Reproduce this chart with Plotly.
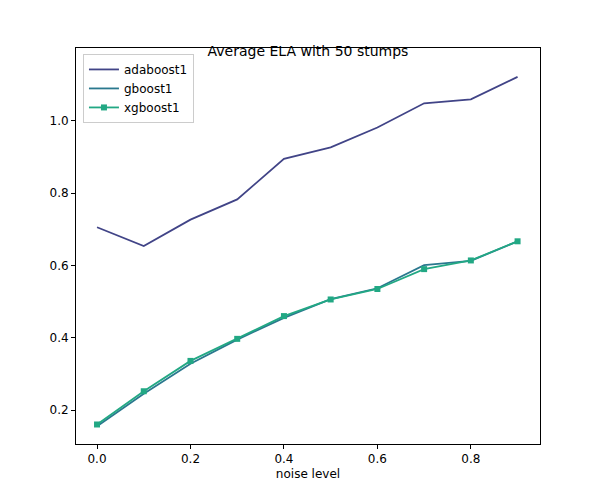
import plotly.graph_objects as go

noise = [0.0, 0.1, 0.2, 0.3, 0.4, 0.5, 0.6, 0.7, 0.8, 0.9]
adaboost1 = [0.706, 0.654, 0.727, 0.783, 0.895, 0.927, 0.982, 1.049, 1.060, 1.122]
gboost1 = [0.155, 0.245, 0.328, 0.395, 0.455, 0.507, 0.537, 0.601, 0.613, 0.667]
xgboost1 = [0.160, 0.252, 0.336, 0.397, 0.460, 0.506, 0.535, 0.590, 0.614, 0.667]

fig = go.Figure()
fig.add_trace(go.Scatter(x=noise, y=adaboost1, mode="lines", name="adaboost1",
                         line=dict(color="#414487", width=1.8)))
fig.add_trace(go.Scatter(x=noise, y=gboost1, mode="lines", name="gboost1",
                         line=dict(color="#2a788e", width=1.8)))
fig.add_trace(go.Scatter(x=noise, y=xgboost1, mode="lines+markers", name="xgboost1",
                         line=dict(color="#22a884", width=1.8),
                         marker=dict(symbol="square", size=6)))

axis = dict(showgrid=False, zeroline=False, showline=True, mirror=True,
            linecolor="black", linewidth=1, ticks="outside", ticklen=4,
            tickcolor="black", tickfont=dict(size=12))
fig.update_layout(
    width=600, height=500,
    paper_bgcolor="white", plot_bgcolor="white",
    font=dict(family="DejaVu Sans", size=12, color="black"),
    title=dict(text="Average ELA with 50 stumps", x=0.5, xanchor="center",
               y=0.905, yanchor="bottom", font=dict(size=14)),
    margin=dict(l=68, r=68, t=40, b=64),
    xaxis=dict(axis, range=[-0.045, 0.948], tickvals=[0, 0.2, 0.4, 0.6, 0.8],
               ticktext=["0.0", "0.2", "0.4", "0.6", "0.8"],
               title=dict(text="noise level", standoff=4, font=dict(size=12))),
    yaxis=dict(axis, range=[0.106, 1.202], tickvals=[0.2, 0.4, 0.6, 0.8, 1.0],
               ticktext=["0.2", "0.4", "0.6", "0.8", "1.0"]),
    legend=dict(x=0.015, y=0.985, xanchor="left", yanchor="top",
                bordercolor="#cccccc", borderwidth=1, bgcolor="white"),
)
fig.write_html("out.html")
